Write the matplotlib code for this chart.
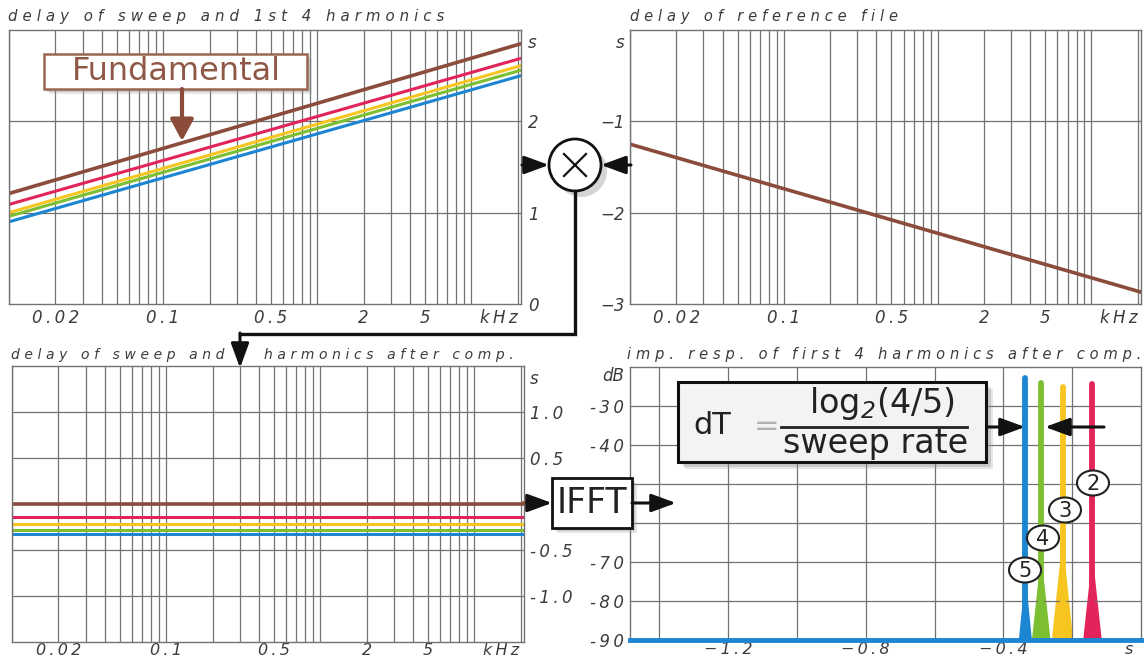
import numpy as np
import matplotlib
matplotlib.use('Agg')
import matplotlib.pyplot as plt
from matplotlib.patches import Rectangle, Circle, Ellipse, FancyArrowPatch
from matplotlib.ticker import FixedLocator, LogLocator, NullFormatter

# ---- data ----
# fundamental and harmonics 2..5
colors = ['#8b4c3c', '#e2245a', '#f7c520', '#7cbf32', '#1c86d2']

# delay of sweep and harmonics [s] at the two band edges [kHz]
f_edges = [0.01, 21.0]
delay_lo = [1.21, 1.09, 1.00, 0.96, 0.90]
delay_hi = [2.85, 2.69, 2.61, 2.56, 2.50]

# delay of reference file [s]
ref_delay = [-1.25, -2.87]

# delay after compensation [s]
comp_delay = [0.0, -0.14, -0.22, -0.28, -0.33]

# impulse responses of harmonics 2..5 after compensation
ir_time = [-0.141, -0.228, -0.290, -0.336]     # s
ir_peak = [-24.4, -25.1, -24.1, -22.8]         # dB
ir_knee = [-68, -64, -68, -73]                 # dB, where the spike widens
ir_halfwidth = [0.027, 0.031, 0.027, 0.019]    # s, half width at floor
ir_floor = -90
t_span = [-1.485, 0.0]

W, H = 1144, 660
plt.rcParams['font.family'] = 'DejaVu Sans'
plt.rcParams['font.style'] = 'italic'
GRID = '#727272'
TXT = '#3c3c3c'

def sp(s, gap='\u2004'):
    # letter spaced text
    return gap.join(s)

def tl(s):
    # tick labels: thinner letter spacing
    return sp(s, '\u2009')

fig = plt.figure(figsize=(W / 100, H / 100), dpi=100)

def add_ax(x0, y0, x1, y1):
    return fig.add_axes([x0 / W, 1 - y1 / H, (x1 - x0) / W, (y1 - y0) / H])

def style(ax):
    for s in ax.spines.values():
        s.set_color(GRID)
        s.set_linewidth(1.0)
    ax.xaxis.remove_overlapping_locs = False
    ax.yaxis.remove_overlapping_locs = False
    ax.tick_params(which='both', length=0, labelsize=12, labelcolor=TXT)
    ax.grid(False, which='major')
    ax.grid(True, which='minor', color=GRID, lw=0.9)

def freq_axis(ax):
    ax.set_xscale('log')
    ax.set_xlim(0.01, 21)
    ax.xaxis.set_major_locator(FixedLocator([0.02, 0.1, 0.5, 2, 5, 15]))
    ax.set_xticklabels([tl(t) for t in ['0.02', '0.1', '0.5', '2', '5', 'kHz']])
    ax.xaxis.set_minor_locator(LogLocator(base=10, subs=np.arange(1, 10), numticks=30))
    ax.xaxis.set_minor_formatter(NullFormatter())

# top left: delay of sweep and 1st 4 harmonics
ax_tl = add_ax(9, 30, 521, 304)
for lo, hi, c in zip(delay_lo[::-1], delay_hi[::-1], colors[::-1]):
    ax_tl.plot(f_edges, [lo, hi], color=c, lw=2.6 if c == colors[0] else 2.2)
freq_axis(ax_tl)
ax_tl.set_ylim(0, 3)
ax_tl.yaxis.tick_right()
ax_tl.set_yticks([0, 1, 2, 2.88], ['0', '1', '2', 's'])
ax_tl.yaxis.set_minor_locator(FixedLocator([1, 2]))
style(ax_tl)
ax_tl.tick_params(axis='y', pad=5)

# top right: delay of reference file
ax_tr = add_ax(630, 30, 1141, 304)
ax_tr.plot(f_edges, ref_delay, color=colors[0], lw=2.6)
freq_axis(ax_tr)
ax_tr.set_ylim(-3, 0)
ax_tr.set_yticks([-3, -2, -1, -0.12], ['\u22123', '\u22122', '\u22121', 's'])
ax_tr.yaxis.set_minor_locator(FixedLocator([-2, -1]))
style(ax_tr)
ax_tr.tick_params(axis='y', pad=4)

# bottom left: delays after compensation
ax_bl = add_ax(12, 366, 524, 642)
for d, c in zip(comp_delay[::-1], colors[::-1]):
    ax_bl.axhline(d, color=c, lw=2.6 if c == colors[0] else 2.2)
freq_axis(ax_bl)
ax_bl.set_ylim(-1.5, 1.5)
ax_bl.yaxis.tick_right()
ax_bl.set_yticks([-1.0, -0.5, 0.5, 1.0, 1.38],
                 [tl(t) for t in ['-1.0', '-0.5', '0.5', '1.0']] + ['s'])
ax_bl.yaxis.set_minor_locator(FixedLocator([-1.0, -0.5, 0, 0.5, 1.0]))
style(ax_bl)
ax_bl.tick_params(axis='y', pad=4)
ax_bl.tick_params(axis='x', pad=0.5, labelsize=11.5)

# bottom right: impulse responses
ax_br = add_ax(630, 367, 1141, 640)
for t, pk, kn, hw, c in zip(ir_time, ir_peak, ir_knee, ir_halfwidth, colors[1:]):
    ax_br.fill([t - hw, t, t + hw], [ir_floor, kn, ir_floor], color=c, lw=0)
    ax_br.plot([t, t], [ir_floor, pk], color=c, lw=4.2, solid_capstyle='round')
ax_br.plot(t_span, [ir_floor, ir_floor], color=colors[4], lw=3.5, clip_on=False, zorder=5)
ax_br.set_xlim(t_span)
ax_br.set_ylim(-90, -20)
ax_br.set_xticks([-1.2, -0.8, -0.4, -0.035],
                 [tl(t) for t in ['\u22121.2', '\u22120.8', '\u22120.4']] + ['s'])
ax_br.xaxis.set_minor_locator(FixedLocator(np.arange(-1.4, -0.1, 0.2)))
ax_br.set_yticks([-90, -80, -70, -40, -30, -21.8],
                 [tl(t) for t in ['-90', '-80', '-70', '-40', '-30']] + ['dB'])
ax_br.yaxis.set_minor_locator(FixedLocator(np.arange(-80, -20, 10)))
style(ax_br)
ax_br.tick_params(axis='y', pad=4)
ax_br.tick_params(axis='x', pad=1.5, labelsize=11.5)

# ---- overlay in pixel coordinates ----
ov = fig.add_axes([0, 0, 1, 1], zorder=10)
ov.set_xlim(0, W)
ov.set_ylim(H, 0)
ov.axis('off')
ov.patch.set_alpha(0)

tkw = dict(fontsize=10.5, color=TXT, va='center', ha='left')
ov.text(8, 17, sp('delay of sweep and 1st 4 harmonics'), **dict(tkw, fontsize=10.8))
ov.text(630, 17, sp('delay of reference file'), **tkw)
ov.text(11, 355, sp('delay of sweep and'), **dict(tkw, fontsize=10))
ov.text(264, 355, sp('harmonics after comp.'), **dict(tkw, fontsize=10))
ov.text(627, 354, sp('imp. resp. of first 4 harmonics after comp.'), **tkw)

def arrow(p0, p1, color='#111111', lw=2.2, hl=1.5, hw=0.55):
    ov.add_patch(FancyArrowPatch(p0, p1, arrowstyle=f'-|>,head_length={hl},head_width={hw}',
                                 mutation_scale=10, color=color, lw=lw,
                                 shrinkA=0, shrinkB=0, zorder=4))

def shadow_rect(x, y, w, h, fc, ec, lw, off=6):
    ov.add_patch(Rectangle((x + off, y + off), w, h, fc='#9a9a9a', ec='none', alpha=0.25, zorder=1))
    ov.add_patch(Rectangle((x + off - 2, y + off - 2), w, h, fc='#8a8a8a', ec='none', alpha=0.3, zorder=1))
    ov.add_patch(Rectangle((x, y), w, h, fc=fc, ec=ec, lw=lw, zorder=2))

# Fundamental label
shadow_rect(44, 54, 263, 35, 'white', '#9a6656', 1.8, off=5)
ov.text(176, 72, 'Fundamental', fontsize=23, style='normal', color='#8f5846',
        ha='center', va='center', zorder=3)
arrow((182, 89), (182, 141), color='#8b4c3c', lw=3, hl=1.3, hw=0.7)

# multiplier
ov.add_patch(Circle((581, 171), 26, fc='#888888', ec='none', alpha=0.35, zorder=1))
ov.add_patch(Circle((575, 165), 26, fc='white', ec='#111111', lw=2, zorder=2))
ov.plot([564, 586], [154, 176], color='#111111', lw=1.6, zorder=3)
ov.plot([564, 586], [176, 154], color='#111111', lw=1.6, zorder=3)
arrow((522, 165), (549, 165))
arrow((631, 165), (601, 165))
ov.plot([575, 575, 240], [191, 334, 334], color='#111111', lw=2.4, zorder=3,
        solid_joinstyle='miter')
arrow((240, 333), (240, 368))

# IFFT block
ov.plot([524, 534], [503, 503], color=colors[0], lw=2.6, zorder=3)
arrow((530, 503), (552, 503))
shadow_rect(552, 478, 80, 50, 'white', '#111111', 2, off=5)
ov.text(592, 503, 'IFFT', fontsize=25, style='normal', color='#222222',
        ha='center', va='center', zorder=3)
arrow((632, 503), (676, 503))

# dT formula
shadow_rect(678, 382, 308, 80, '#f4f3f1', '#111111', 2.2, off=7)
fkw = dict(fontsize=24, style='normal', color='#222222', ha='center', va='center', zorder=3)
ov.text(712, 425, 'dT', **dict(fkw, fontsize=22))
ov.text(767, 427, '=', **dict(fkw, color='#b0b0b0', fontsize=22))
ov.plot([781, 967], [427, 427], color='#222222', lw=2, zorder=3)
ov.text(882, 404, 'log$_2$(4/5)', **fkw)
ov.text(876, 444, 'sweep rate', **fkw)
arrow((987, 427), (1025, 427))
arrow((1104, 427), (1045, 427))

# harmonic numbers
for n, (cx, cy) in zip(['2', '3', '4', '5'],
                       [(1093, 483), (1065, 510), (1043, 538), (1025, 570)]):
    ov.add_patch(Ellipse((cx, cy), 32, 25, fc='white', ec='#222222', lw=1.5, zorder=3))
    ov.text(cx, cy + 1, n, fontsize=15, style='normal', color='#222222',
            ha='center', va='center', zorder=4)

fig.savefig('out.png', dpi=100)
